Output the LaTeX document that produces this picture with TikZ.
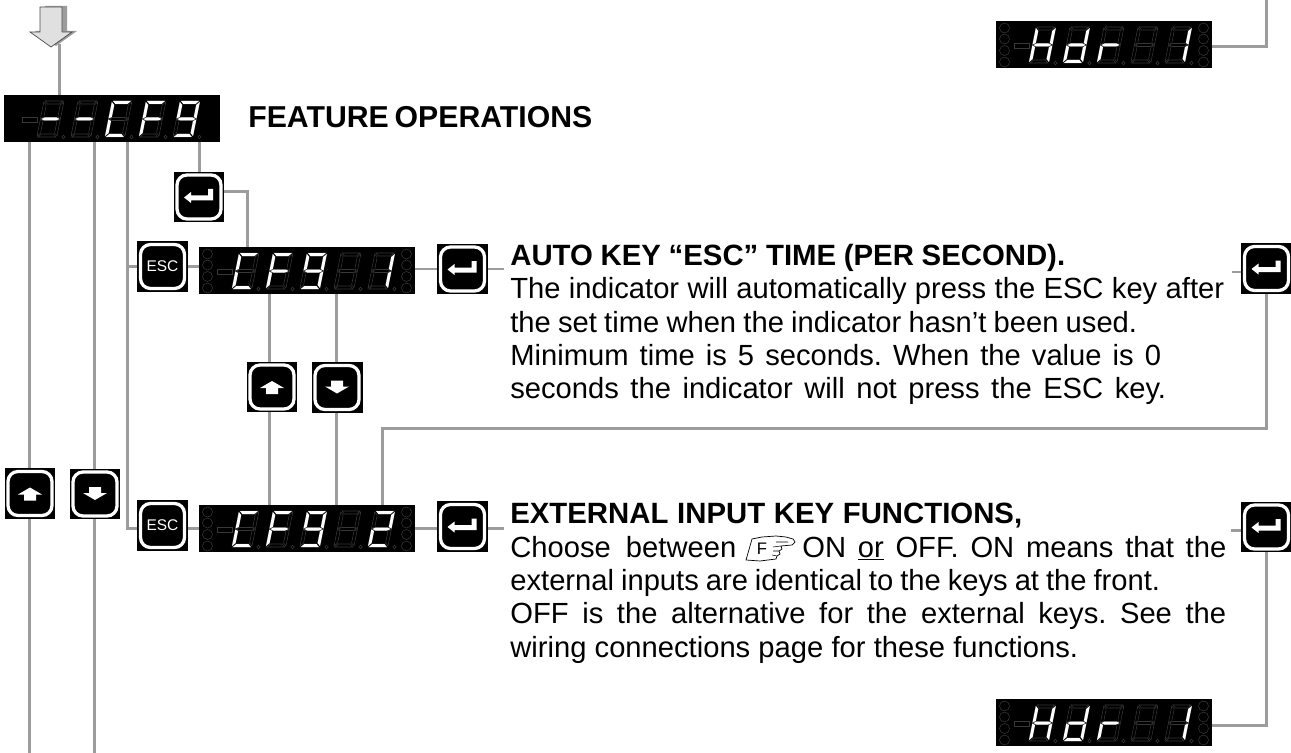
\documentclass[tikz,border=0pt]{standalone}
\usepackage{fontspec}
\setmainfont{Liberation Sans}
\frenchspacing
\definecolor{wiregray}{HTML}{9C9C9C}
\definecolor{segdark}{HTML}{383838}
\tikzset{
    wire/.style={draw=wiregray,line width=0.06cm},
    dspbox/.style={fill=black,minimum width=4.32cm,minimum height=0.94cm,inner sep=0pt,outer sep=0pt},
    keybtn/.style={fill=black,minimum size=1.02cm,inner sep=0pt,outer sep=0pt},
    keyrim/.style={draw=white,line width=0.065cm,rounded corners=0.2cm},
    segoff/.style={draw=segdark,line width=0.3pt},
    segon/.style={fill=white},
    headtxt/.style={anchor=base west,inner sep=0pt,font=\fontsize{16.7}{18}\selectfont\bfseries},
    titletxt/.style={anchor=base west,inner sep=0pt,font=\fontsize{17.2}{18}\selectfont\bfseries},
    bodytxt/.style={anchor=base west,inner sep=0pt,font=\fontsize{16.6}{18}\selectfont},
}
\def\sega{(1,0) -- (19,0) -- (16,3) -- (4,3) -- cycle}
\def\segb{(20,1) -- (17,4) -- (17,16) -- (20,17.5) -- cycle}
\def\segc{(20,18.5) -- (17,20) -- (17,32) -- (20,35) -- cycle}
\def\segd{(1,36) -- (4,33) -- (16,33) -- (19,36) -- cycle}
\def\sege{(0,18.5) -- (3,20) -- (3,32) -- (0,35) -- cycle}
\def\segf{(0,1) -- (3,4) -- (3,16) -- (0,17.5) -- cycle}
\def\segg{(1,18) -- (4,16.5) -- (16,16.5) -- (19,18) -- (16,19.5) -- (4,19.5) -- cycle}
\def\segn{(0,0)}
% name, left, top, five digits
\newcommand{\showdsp}[4]{
    \node[dspbox] (#1) at (#2+108,#3+23.5) {};
    \filldraw[segoff,fill=black] (#2+18,#3+22) rectangle (#2+33,#3+27);
    \begin{scope}[shift={(#2+40,#3+6)},x=0.02cm,y={(-0.004cm,-0.02cm)}]
        \foreach \lit [count=\i from 0] in {#4} {
            \begin{scope}[shift={(\i*34,0)}]
                \foreach \s in {a,b,c,d,e,f,g} { \draw[segoff] \csname seg\s\endcsname; }
                \foreach \s in \lit { \fill[segon] \csname seg\s\endcsname; }
            \end{scope}
        }
    \end{scope}
    \foreach \i in {0,...,4} {
        \draw[segoff] (#2+59.5+\i*34,#3+42) circle (1.8);
    }
}
\newcommand{\showleds}[2]{
    \foreach \j in {7,18,29.5,41} {
        \draw[segoff] (#1+8.5,#2+\j) circle (5);
        \draw[segoff] (#1+207.5,#2+\j) circle (5);
    }
}
\newcommand{\showkey}[3]{
    \node[keybtn] (#1) at (#2,#3) {};
    \draw[keyrim] (#2-22,#3-22) rectangle (#2+22,#3+22);
}
\newcommand{\enterkey}[3]{
    \showkey{#1}{#2}{#3}
    \fill[white,shift={(#2,#3)}] (-15,0.5) -- (-8,-5) -- (-8,-1.5) -- (9,-1.5) -- (9,-8) -- (14,-8)
        -- (14,3.5) -- (-8,3.5) -- (-8,6) -- cycle;
}
\newcommand{\upkey}[3]{
    \showkey{#1}{#2}{#3}
    \fill[white,shift={(#2,#3)}] (0,-6) -- (12,1) -- (6,1) -- (6,7) -- (-6,7) -- (-6,1) -- (-12,1) -- cycle;
}
\newcommand{\downkey}[3]{
    \showkey{#1}{#2}{#3}
    \fill[white,shift={(#2,#3)}] (0,6) -- (12,-1) -- (6,-1) -- (6,-7) -- (-6,-7) -- (-6,-1) -- (-12,-1) -- cycle;
}
\newcommand{\esckey}[3]{
    \showkey{#1}{#2}{#3}
    \node[white,inner sep=0pt,font=\fontsize{8.8}{10}\selectfont] (#1txt) at (#2,#3) {ESC};
}
\newcommand{\fitline}[2]{\makebox[\dimexpr#1pt*569/1000\relax][s]{#2}}
\begin{document}
\begin{tikzpicture}[x=0.02cm,y=-0.02cm]
    \useasboundingbox (0,0) rectangle (1291,753);

    % big arrow
    \fill[wiregray] (56,46) -- (35,31) -- (45,31) -- (45,6) -- (67,6) -- (67,31) -- (77,31) -- cycle;
    \filldraw[draw=black!70,fill=black!12,line width=0.4pt] (51,47) -- (30,32) -- (40,32) -- (40,7) -- (62,7) -- (62,32) -- (72,32) -- cycle;

    % displays
    \showdsp{dspcfg}{4}{95}{{g},{g},{a,d,e,f},{a,e,f,g},{a,b,c,d,f,g}}
    \showdsp{dspone}{199}{247}{{a,d,e,f},{a,e,f,g},{a,b,c,d,f,g},{n},{b,c}}
    \showdsp{dsptwo}{199}{505}{{a,d,e,f},{a,e,f,g},{a,b,c,d,f,g},{n},{a,b,g,e,d}}
    \showdsp{hdrtop}{996}{21}{{b,c,e,f,g},{b,c,d,e,g},{e,g},{n},{b,c}}
    \showdsp{hdrbot}{996}{699}{{b,c,e,f,g},{b,c,d,e,g},{e,g},{n},{b,c}}
    \showleds{199}{247}
    \showleds{199}{505}
    \showleds{996}{21}
    \showleds{996}{699}

    % keys
    \enterkey{enttop}{199}{197}
    \esckey{escone}{162.5}{266.5}
    \esckey{esctwo}{162.5}{525.5}
    \enterkey{entone}{462.5}{269}
    \enterkey{enttwo}{462.5}{526.5}
    \enterkey{entrone}{1266.5}{268.5}
    \enterkey{entrtwo}{1266.5}{527}
    \upkey{upin}{272}{387}
    \downkey{downin}{337}{387.5}
    \upkey{upout}{30}{493.5}
    \downkey{downout}{95}{494}

    % free ends and bends
    \coordinate (tiparrow) at (59,44);
    \coordinate (colup) at (29,753);
    \coordinate (coldown) at (94,753);
    \coordinate (escbus) at (127,528);
    \coordinate (entbend) at (247,192);
    \coordinate (inup) at (269,0);
    \coordinate (indown) at (336,0);
    \coordinate (retbend) at (382,428);
    \coordinate (stubone) at (504,269);
    \coordinate (stubtwo) at (504,528);
    \coordinate (stubrone) at (1232,272);
    \coordinate (stubrtwo) at (1231,530);
    \coordinate (hdrenter) at (1266,0);
    \coordinate (hdrtopbend) at (1266,46.5);
    \coordinate (hdrbotbend) at (1266,725);

    % connectors
    \draw[wire] (tiparrow) -- (tiparrow |- dspcfg.north);
    \draw[wire] (dspcfg.south -| colup) -- (upout.north -| colup);
    \draw[wire] (upout.south -| colup) -- (colup);
    \draw[wire] (dspcfg.south -| coldown) -- (downout.north -| coldown);
    \draw[wire] (downout.south -| coldown) -- (coldown);
    \draw[wire] (dspcfg.south -| escbus) -- (escbus) -- (esctwo.west |- escbus);
    \draw[wire] (escone.west -| escbus) -- (escone.west);
    \draw[wire] (escone.east) -- (escone.east -| dspone.west);
    \draw[wire] (esctwo.east |- escbus) -- (dsptwo.west |- escbus);
    \draw[wire] (enttop.north |- dspcfg.south) -- (enttop.north);
    \draw[wire] (enttop.east |- entbend) -- (entbend) -- (entbend |- dspone.north);
    \draw[wire] (dspone.south -| inup) -- (upin.north -| inup);
    \draw[wire] (upin.south -| inup) -- (dsptwo.north -| inup);
    \draw[wire] (dspone.south -| indown) -- (downin.north -| indown);
    \draw[wire] (downin.south -| indown) -- (dsptwo.north -| indown);
    \draw[wire] (dspone.east |- entone.west) -- (entone.west);
    \draw[wire] (entone.east) -- (stubone);
    \draw[wire] (dsptwo.east) -- (enttwo.west |- dsptwo.east);
    \draw[wire] (enttwo.east |- stubtwo) -- (stubtwo);
    \draw[wire] (stubrone) -- (entrone.west |- stubrone);
    \draw[wire] (stubrtwo) -- (entrtwo.west |- stubrtwo);
    \draw[wire] (entrone.south) -- (entrone.south |- retbend) -- (retbend) -- (retbend |- dsptwo.north);
    \draw[wire] (hdrenter) -- (hdrtopbend) -- (hdrtop.east |- hdrtopbend);
    \draw[wire] (entrtwo.south) -- (entrtwo.south |- hdrbotbend) -- (hdrbotbend) -- (hdrbot.east |- hdrbotbend);

    % texts
    \node[titletxt] (title) at (248,128) {\fitline{344}{FEATURE OPERATIONS}};

    \node[headtxt] (autohead) at (510,265) {\fitline{555}{AUTO KEY “ESC” TIME (PER SECOND).}};
    \node[bodytxt] (autoa) at (510,298) {\fitline{714}{The indicator will automatically press the ESC key after}};
    \node[bodytxt] (autob) at (510,332) {\fitline{627}{the set time when the indicator hasn’t been used.}};
    \node[bodytxt] (autoc) at (510,365) {\fitline{651}{Minimum time is 5 seconds. When the value is 0}};
    \node[bodytxt] (autod) at (510,398) {\fitline{656}{seconds the indicator will not press the ESC key.}};

    \node[headtxt] (exthead) at (510,523) {\fitline{512}{EXTERNAL INPUT KEY FUNCTIONS,}};
    \node[bodytxt] (exta) at (510,557) {\fitline{226}{Choose between}};
    \node[bodytxt] (extaa) at (802,557) {\fitline{424}{ON \underline{or} OFF. ON means that the}};
    \node[bodytxt] (extb) at (510,590.5) {\fitline{650}{external inputs are identical to the keys at the front.}};
    \node[bodytxt] (extc) at (510,623.5) {\fitline{716}{OFF is the alternative for the external keys. See the}};
    \node[bodytxt] (extd) at (510,657) {\fitline{568}{wiring connections page for these functions.}};

    % pointing hand
    \begin{scope}[shift={(746,536)}]
        \draw[black,line width=0.4pt,fill=white] (0,24) -- (6,3) -- (16,1) -- (30,0) -- (40,1) -- (47,3) -- (49,6) -- (46,9)
            -- (35,10) -- (36,13) -- (33,15) -- (34,18) -- (31,20) -- (30,23) -- (14,25) -- cycle;
        \draw[black,line width=0.3pt] (30,6) -- (42,6) (27,11) -- (35,10) (27,15) -- (33,15) (26,19) -- (31,20);
        \node[inner sep=0pt,font=\fontsize{9.5}{10}\selectfont] (handf) at (16,13) {F};
    \end{scope}
\end{tikzpicture}
\end{document}
